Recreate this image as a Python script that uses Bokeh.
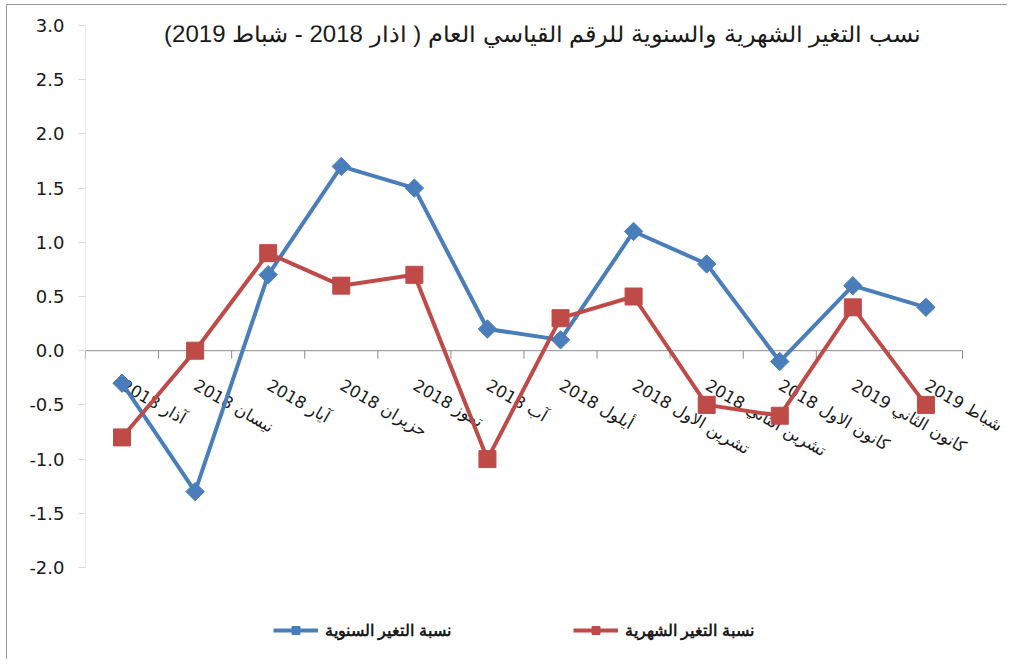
import math
from bokeh.plotting import figure
from bokeh.models import (Range1d, Legend, LegendItem, Label,
                          ColumnDataSource, FixedTicker, PrintfTickFormatter)
from bokeh.core.properties import value
from bokeh.embed import file_html
from bokeh.resources import INLINE

# ---- data ----
months = ["آذار 2018", "نيسان 2018", "آيار 2018", "حزيران 2018", "تموز 2018", "آب 2018",
          "أيلول 2018", "تشرين الاول 2018", "تشرين الثاني 2018", "كانون الاول 2018",
          "كانون الثاني 2019", "شباط 2019"]
annual = [-0.3, -1.3, 0.7, 1.7, 1.5, 0.2, 0.1, 1.1, 0.8, -0.1, 0.6, 0.4]
monthly = [-0.8, 0.0, 0.9, 0.6, 0.7, -1.0, 0.3, 0.5, -0.5, -0.6, 0.4, -0.5]
y_ticks = [-2.0, -1.5, -1.0, -0.5, 0.0, 0.5, 1.0, 1.5, 2.0, 2.5, 3.0]
title_text = "نسب التغير الشهرية والسنوية للرقم القياسي العام ( آذار 2018 - شباط 2019)"
annual_label = "نسبة التغير السنوية"
monthly_label = "نسبة التغير الشهرية"

BLUE = "#4A7EBB"
RED = "#BE4B48"

n = len(months)
xc = [i + 0.5 for i in range(n)]           # category centres
edges = list(range(n + 1))                 # category boundaries

src = ColumnDataSource(data=dict(x=xc, m=months, annual=annual, monthly=monthly,
                                 zero=[0.0] * n))
edge_src = ColumnDataSource(data=dict(x=edges, zero=[0.0] * len(edges)))

p = figure(width=1001, height=655, x_range=Range1d(0, 12.63),
           y_range=Range1d(-2.858, 3.0), x_axis_location=None,
           output_backend="svg", toolbar_location=None,
           min_border_left=78, min_border_right=0, min_border_top=20, min_border_bottom=0)
p.styles = {"border-left": "1px solid #9a9a9a", "border-top": "1px solid #9a9a9a",
            "margin-left": "6px", "margin-top": "4px"}
p.outline_line_color = None
p.xgrid.visible = False
p.ygrid.visible = False

# y axis (ticks + labels), axis line drawn only over the tick span
ax = p.yaxis[0]
ax.ticker = FixedTicker(ticks=y_ticks)
ax.formatter = PrintfTickFormatter(format="%.1f")
ax.axis_line_color = None
ax.major_tick_line_color = "#d9d9d9"
ax.major_tick_out = 7
ax.major_tick_in = 0
ax.minor_tick_line_color = None
ax.major_label_text_font = "DejaVu Sans"
ax.major_label_text_font_size = "18px"
ax.major_label_text_color = "#1a1a1a"
ax.major_label_standoff = 14
p.segment(x0=[edges[0]], y0=[min(y_ticks)], x1=[edges[0]], y1=[max(y_ticks)],
          line_color="#d9d9d9", line_width=1)

# horizontal category axis at y = 0
p.segment(x0=[edges[0]], y0=[0.0], x1=[edges[-1]], y1=[0.0], line_color="#8c8c8c", line_width=1)
p.ray(x="x", y="zero", length=8, length_units="screen", angle=-math.pi / 2,
      line_color="#8c8c8c", line_width=1, source=edge_src)

# category labels rotated
p.text(x="x", y="zero", text="m", source=src, angle=-math.pi / 6,
       text_align="left", text_baseline="top", x_offset=5, y_offset=25,
       text_font=value("DejaVu Sans"), text_font_size="16.5px", text_color="#1a1a1a")

# series
l_annual = p.line(x="x", y="annual", source=src, line_color=BLUE, line_width=4)
m_annual = p.scatter(x="x", y="annual", source=src, marker="square", angle=math.pi / 4,
                     size=13, fill_color=BLUE, line_color=BLUE)
l_month = p.line(x="x", y="monthly", source=src, line_color=RED, line_width=4)
m_month = p.scatter(x="x", y="monthly", source=src, marker="square", size=17,
                    fill_color=RED, line_color=RED)

# title
p.add_layout(Label(x=457, y=627, x_units="screen", y_units="screen", text=title_text,
                   text_align="center", text_baseline="middle",
                   text_font="Liberation Sans", text_font_size="24px", text_color="#1a1a1a"))

# legend
legend = Legend(items=[LegendItem(label=annual_label, renderers=[l_annual, m_annual]),
                       LegendItem(label=monthly_label, renderers=[l_month, m_month])],
                location=(188, 20), orientation="horizontal", spacing=122,
                padding=0, margin=0, glyph_width=45, glyph_height=20, label_standoff=7,
                border_line_color=None, background_fill_alpha=0,
                label_text_font="Liberation Sans", label_text_font_size="16px",
                label_text_font_style="bold", label_text_color="#1a1a1a")
p.add_layout(legend, "center")

open("out.html", "w").write(file_html(p, INLINE))
